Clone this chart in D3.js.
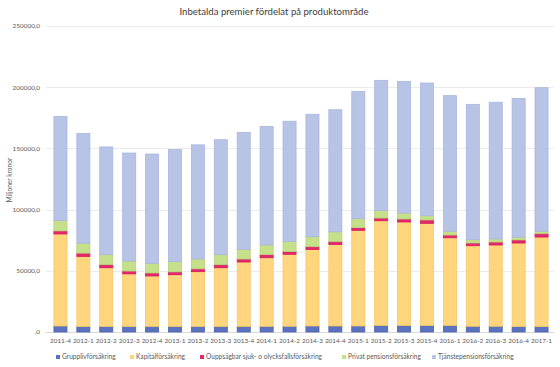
<!DOCTYPE html>
<html>
<head>
<meta charset="utf-8">
<script src="https://cdn.jsdelivr.net/npm/d3@7"></script>
<style>
  body { margin: 0; background: #fff; }
  svg { font-family: "Lato", "Noto Sans", sans-serif; }
</style>
</head>
<body>
<svg id="chart" width="560" height="367"></svg>
<script>
// Quarters
var periods = ["2011-4", "2012-1", "2012-2", "2012-3", "2012-4", "2013-1", "2013-2", "2013-3",
  "2013-4", "2014-1", "2014-2", "2014-3", "2014-4", "2015-1", "2015-2", "2015-3",
  "2015-4", "2016-1", "2016-2", "2016-3", "2016-4", "2017-1"];
// Series values (miljoner kronor)
var grupp = [4900, 4500, 4500, 4500, 4500, 4500, 4500, 4500, 4600, 4600, 4700, 4900,
  4900, 4900, 5300, 5300, 5300, 5300, 4700, 4700, 4400, 4400];
var kapital = [75200, 57300, 48000, 43000, 41300, 42300, 44800, 48000, 52600, 56100, 58800, 62600,
  66700, 78200, 85600, 84600, 83500, 71700, 65800, 66400, 68300, 73200];
var ouppsagbar = [2500, 2600, 2500, 2300, 2400, 2300, 2300, 2500, 2400, 2500, 2200, 2200,
  2200, 2100, 2200, 2400, 2700, 2200, 2200, 2400, 2500, 2700];
var privat = [8400, 8200, 8200, 8200, 7900, 8500, 8100, 8200, 7900, 7900, 8200, 8200,
  8100, 7400, 6300, 4900, 3500, 3100, 2700, 2500, 2200, 2000];
var tjanste = [85000, 89600, 88000, 88200, 89300, 91500, 93200, 93900, 95600, 96900, 98300, 100000,
  99700, 104000, 106200, 107600, 108400, 110800, 110600, 111700, 113500, 117300];
var seriesNames = ["Grupplivförsäkring", "Kapitalförsäkring", "Ouppsägbar sjuk- o olycksfallsförsäkring",
  "Privat pensionsförsäkring", "Tjänstepensionsförsäkring"];
var yTicks = [0, 50000, 100000, 150000, 200000, 250000];

var colors = ["#5b72bf", "#ffd57e", "#e5266f", "#c6df8a", "#b8c4e6"];
var strokes = ["#4a62b0", "#f7c766", "#d01a5e", "#b5d376", "#a9b7e0"];

var svg = d3.select("#chart");
var margin = { left: 49, right: 7, top: 26, bottom: 35 };
var W = 560, H = 367;

var rows = periods.map(function (p, i) {
  return { period: p, s0: grupp[i], s1: kapital[i], s2: ouppsagbar[i], s3: privat[i], s4: tjanste[i] };
});
var keys = ["s0", "s1", "s2", "s3", "s4"];
var stacked = d3.stack().keys(keys)(rows);

var x = d3.scaleBand().domain(periods).range([margin.left, W - margin.right]).paddingInner(0.43).paddingOuter(0.215);
var y = d3.scaleLinear().domain([0, 250000]).range([H - margin.bottom, margin.top]);

// Gridlines
svg.append("g").selectAll("line")
  .data(yTicks)
  .enter().append("line")
  .attr("x1", margin.left - 3).attr("x2", W - margin.right + 1)
  .attr("y1", function (d) { return Math.round(y(d)) + 0.5; })
  .attr("y2", function (d) { return Math.round(y(d)) + 0.5; })
  .attr("stroke", function (d) { return d === 0 ? "#d9d9d9" : "#ececec"; })
  .attr("stroke-width", 1);

// Y tick labels
svg.append("g").selectAll("text")
  .data(yTicks)
  .enter().append("text")
  .attr("x", 40).attr("y", function (d) { return y(d) + 2.3; })
  .attr("text-anchor", "end")
  .attr("font-size", 6.4)
  .attr("fill", "#595959")
  .text(function (d) { return d === 0 ? ",0" : d + ",0"; });

// Bars
svg.append("g").selectAll("g")
  .data(stacked)
  .enter().append("g")
  .attr("fill", function (d, i) { return colors[i]; })
  .attr("stroke", function (d, i) { return strokes[i]; })
  .attr("stroke-width", 0.8)
  .selectAll("rect")
  .data(function (d) { return d; })
  .enter().append("rect")
  .attr("x", function (d) { return x(d.data.period); })
  .attr("width", x.bandwidth())
  .attr("y", function (d) { return y(d[1]); })
  .attr("height", function (d) { return y(d[0]) - y(d[1]); });

// X labels
svg.append("g").selectAll("text")
  .data(periods)
  .enter().append("text")
  .attr("x", function (d) { return x(d) + x.bandwidth() / 2; })
  .attr("y", 343)
  .attr("text-anchor", "middle")
  .attr("font-size", 6.4)
  .attr("fill", "#595959")
  .text(function (d) { return d; });

// Title
svg.append("text")
  .attr("x", 274).attr("y", 15)
  .attr("text-anchor", "middle")
  .attr("font-size", 9.6)
  .attr("fill", "#404040")
  .text("Inbetalda premier fördelat på produktområde");

// Y axis title
svg.append("text")
  .attr("transform", "translate(12,180) rotate(-90)")
  .attr("text-anchor", "middle")
  .attr("font-size", 6.6)
  .attr("fill", "#595959")
  .text("Miljoner kronor");

// Legend
var legendX = [56, 130, 200, 342, 432];
var legend = svg.append("g").selectAll("g")
  .data(seriesNames)
  .enter().append("g")
  .attr("transform", function (d, i) { return "translate(" + legendX[i] + ",357)"; });
legend.append("rect")
  .attr("x", 0).attr("y", -2).attr("width", 4).attr("height", 4)
  .attr("fill", function (d, i) { return colors[i]; });
legend.append("text")
  .attr("x", 6).attr("y", 2.3)
  .attr("font-size", 6.6)
  .attr("fill", "#595959")
  .text(function (d) { return d; });
</script>
</body>
</html>
